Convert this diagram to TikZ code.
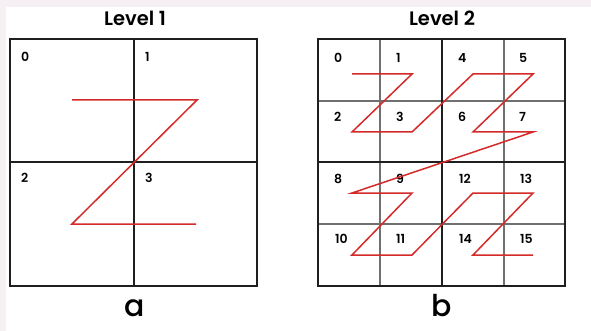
\documentclass[tikz,border=0pt]{standalone}
\usepackage{fontspec}
\setmainfont{Poppins}
\newfontfamily\popmed{Poppins Medium}
\newfontfamily\popsemi{Poppins SemiBold}
\definecolor{zred}{HTML}{D42A2A}
\definecolor{bgtint}{HTML}{F6F0F5}
\definecolor{gridgray}{HTML}{707070}
\tikzset{
  outerline/.style={draw=black!88, line width=2.2pt},
  gridthin/.style={draw=gridgray, line width=1.2pt},
  zpath/.style={draw=zred, line width=1.5pt, line join=miter},
  num/.style={font=\fontsize{12.5}{13}\popsemi, anchor=west, inner sep=0pt},
  title/.style={font=\fontsize{19.5}{21}\popsemi, inner sep=0pt},
  sublabel/.style={font=\fontsize{30}{32}\popmed, inner sep=0pt},
}
\begin{document}
\begin{tikzpicture}[x=1pt,y=-1pt]
\useasboundingbox (0,0) rectangle (591,331);
\fill[bgtint] (0,0) rectangle (591,331);
\fill[white] (6,7) rectangle (591,331);

% ---------- Level 1 ----------
\node[title] (t1) at (135,18) {Level 1};
\draw[outerline] (134,39) -- (134,286);
\draw[outerline] (10,162) -- (257,162);
\draw[outerline] (10,39) rectangle (257,286);
\node[num] (a0) at (21,57) {0};
\node[num] (a1) at (145,57) {1};
\node[num] (a2) at (21,178) {2};
\node[num] (a3) at (145,178) {3};
\coordinate (p0) at (72,100);
\coordinate (p1) at (197,100);
\coordinate (p2) at (72,224);
\coordinate (p3) at (196,224);
\draw[zpath] (p0) -- (p1) -- (p2) -- (p3);
\node[sublabel] (la) at (135,308) {a};

% ---------- Level 2 ----------
\node[title] (t2) at (442,18) {Level 2};
\draw[gridthin] (380,39) -- (380,286);
\draw[gridthin] (504,39) -- (504,286);
\draw[gridthin] (318,101) -- (565,101);
\draw[gridthin] (318,224) -- (565,224);
\draw[outerline] (442,39) -- (442,286);
\draw[outerline] (318,162) -- (565,162);
\draw[outerline] (318,39) rectangle (565,286);

\node[num] (b0) at (334,58) {0};
\node[num] (b1) at (396,58) {1};
\node[num] (b4) at (458,58) {4};
\node[num] (b5) at (519,58) {5};
\node[num] (b2) at (334,117) {2};
\node[num] (b3) at (396,117) {3};
\node[num] (b6) at (458,117) {6};
\node[num] (b7) at (519,117) {7};
\node[num] (b8) at (334,179) {8};
\node[num] (b9) at (396,179) {9};
\node[num] (b12) at (459,179) {12};
\node[num] (b13) at (520,179) {13};
\node[num] (b10) at (335,239) {10};
\node[num] (b11) at (396,239) {11};
\node[num] (b14) at (459,239) {14};
\node[num] (b15) at (520,239) {15};

\coordinate (q0) at (352,74);
\coordinate (q1) at (412,74);
\coordinate (q2) at (352,132);
\coordinate (q3) at (412,132);
\coordinate (q4) at (473,74);
\coordinate (q5) at (533,74);
\coordinate (q6) at (473,132);
\coordinate (q7) at (533,132);
\coordinate (q8) at (352,193);
\coordinate (q9) at (412,193);
\coordinate (q10) at (352,255);
\coordinate (q11) at (412,255);
\coordinate (q12) at (473,193);
\coordinate (q13) at (533,193);
\coordinate (q14) at (473,255);
\coordinate (q15) at (533,255);
\draw[zpath] (q0) -- (q1) -- (q2) -- (q3) -- (q4) -- (q5) -- (q6) -- (q7)
  -- (q8) -- (q9) -- (q10) -- (q11) -- (q12) -- (q13) -- (q14) -- (q15);
\node[sublabel] (lb) at (442,306) {b};
\end{tikzpicture}
\end{document}
